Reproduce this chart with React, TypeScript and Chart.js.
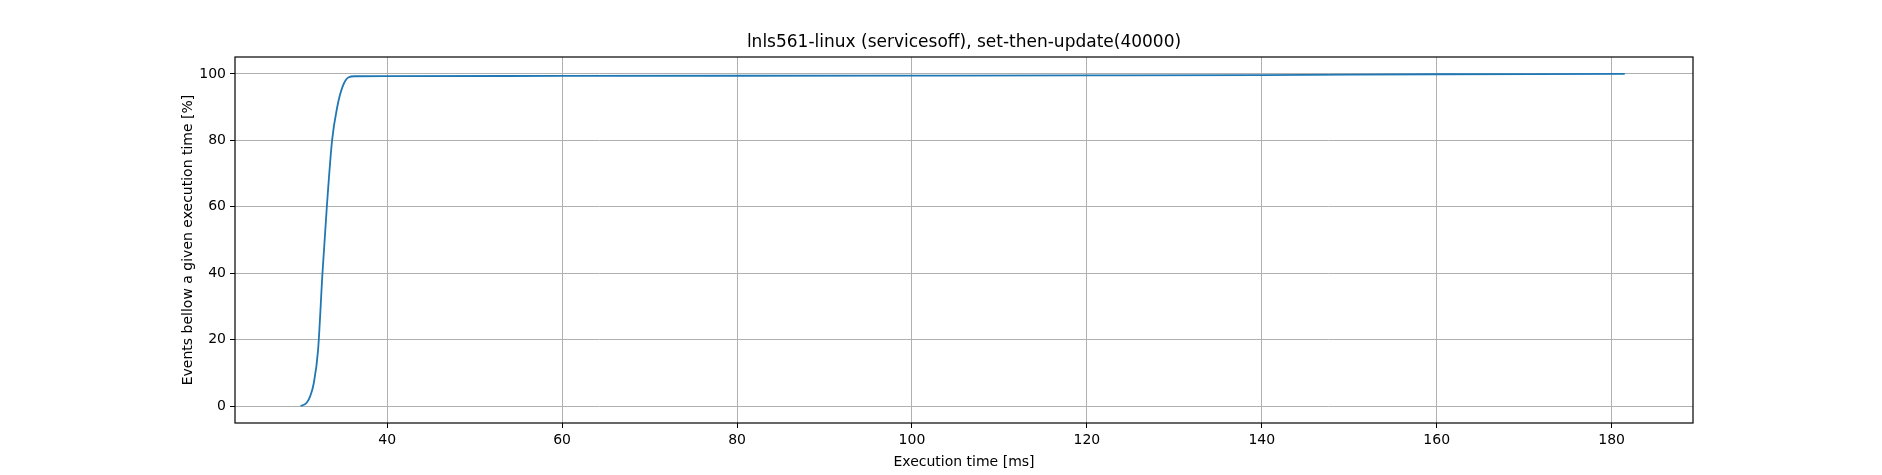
import { useEffect, useRef } from "react";
import Chart from "chart.js/auto";

const times = [30.1, 30.8, 31.2, 31.6, 32.1, 32.6, 33.1, 33.7, 34.3, 34.9, 35.6, 36.3, 40, 60, 80, 100, 120, 140, 160, 181.5];
const percents = [0, 1, 3, 6.8, 16.9, 40, 60, 80, 90.2, 96.2, 99, 99.3, 99.35, 99.4, 99.45, 99.5, 99.55, 99.65, 99.9, 100];
const xTicks = [40, 60, 80, 100, 120, 140, 160, 180];
const yTicks = [0, 20, 40, 60, 80, 100];
const chartTitle = "lnls561-linux (servicesoff), set-then-update(40000)";

// matplotlib-like frame and a title centred over the plot area
const frame = {
  id: "frame",
  afterDraw(chart: Chart) {
    const { ctx, chartArea: a } = chart;
    ctx.save();
    ctx.strokeStyle = "#000";
    ctx.lineWidth = 1.2;
    ctx.strokeRect(a.left, a.top, a.right - a.left, a.bottom - a.top);
    ctx.fillStyle = "#000";
    ctx.font = "17px 'DejaVu Sans'";
    ctx.textAlign = "center";
    ctx.textBaseline = "middle";
    ctx.fillText(chartTitle, (a.left + a.right) / 2, 43);
    ctx.restore();
  },
};

const App = () => {
  const chartRef = useRef<HTMLCanvasElement>(null);
  const chartInstanceRef = useRef<Chart>();

  useEffect(() => {
    document.body.style.margin = "0";
    if (!chartRef.current) return;
    if (chartInstanceRef.current) chartInstanceRef.current.destroy();
    const ctx = chartRef.current.getContext("2d");
    if (!ctx) return;
    const font = { family: "DejaVu Sans", size: 14 };
    chartInstanceRef.current = new Chart(ctx, {
      type: "scatter",
      data: {
        datasets: [
          {
            data: times.map((t, i) => ({ x: t, y: percents[i] })),
            showLine: true,
            borderColor: "#1f77b4",
            borderWidth: 1.8,
            pointRadius: 0,
            cubicInterpolationMode: "monotone",
          },
        ],
      },
      plugins: [frame],
      options: {
        responsive: false,
        animation: false,
        layout: { padding: { left: 176, right: 189, top: 57, bottom: 0 } },
        plugins: {
          legend: { display: false },
          tooltip: { enabled: false },
          title: { display: false },
        },
        scales: {
          x: {
            type: "linear",
            min: 22.6,
            max: 189.3,
            afterBuildTicks: (s: any) => {
              s.ticks = xTicks.map((v) => ({ value: v }));
            },
            afterFit: (s: any) => {
              s.height = 52;
            },
            ticks: { color: "#000", font, padding: 4, maxRotation: 0 },
            grid: { color: "#b0b0b0", tickColor: "#000", tickLength: 5 },
            border: { display: false },
            title: { display: true, text: "Execution time [ms]", color: "#000", font, padding: { top: 2 } },
          },
          y: {
            min: -5.1,
            max: 105.1,
            afterBuildTicks: (s: any) => {
              s.ticks = yTicks.map((v) => ({ value: v }));
            },
            afterFit: (s: any) => {
              s.width = 59;
            },
            ticks: { color: "#000", font, padding: 4 },
            grid: { color: "#b0b0b0", tickColor: "#000", tickLength: 5 },
            border: { display: false },
            title: { display: true, text: "Events bellow a given execution time [%]", color: "#000", font, padding: { bottom: 4 } },
          },
        },
      },
    } as any);
    return () => {
      if (chartInstanceRef.current) chartInstanceRef.current.destroy();
    };
  }, []);

  return <canvas ref={chartRef} width={1882} height={475} style={{ display: "block" }} />;
};

export default App;
